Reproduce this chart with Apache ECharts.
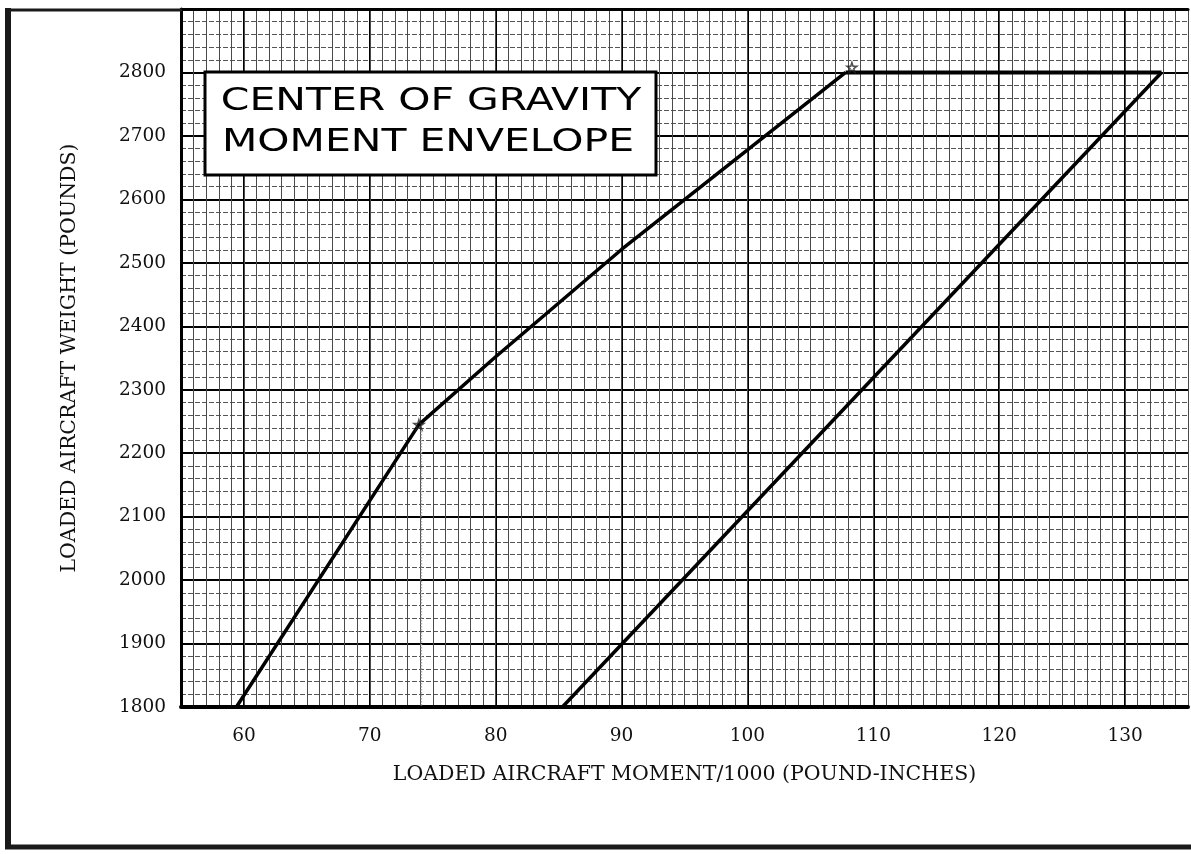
<!DOCTYPE html>
<html>
<head>
<meta charset="utf-8">
<script src="https://cdn.jsdelivr.net/npm/echarts@6/dist/echarts.min.js"></script>
<style>
html,body{margin:0;padding:0;background:#fff;}
#c{width:1191px;height:854px;}
</style>
</head>
<body>
<div id="c"></div>
<script>
// ---- data ----
var xTickLabels = [60, 70, 80, 90, 100, 110, 120, 130];
var yTickLabels = [1800, 1900, 2000, 2100, 2200, 2300, 2400, 2500, 2600, 2700, 2800];
// forward (left) limit of the envelope
var fwdMoment = [59.4, 73.9, 80, 90, 107.8];
var fwdWeight = [1800, 2245, 2352, 2521, 2800];
// maximum weight line
var topMoment = [107.8, 132.9];
var topWeight = [2800, 2800];
// aft (right) limit
var aftMoment = [85.3, 132.9];
var aftWeight = [1800, 2800];
// pencil construction line
var pencilMoment = [74.1, 74.1];
var pencilWeight = [2235, 1800];
// hand marks
var markMoment = [73.9, 108.3];
var markWeight = [2245, 2808];

function zip(a, b) { return a.map(function (v, i) { return [v, b[i]]; }); }

var chart = echarts.init(document.getElementById('c'), null, {renderer: 'canvas'});
var serif = 'DejaVu Serif';
var option = {
  backgroundColor: '#fff',
  animation: false,
  grid: {left: 181, right: 1, top: 9, bottom: 147, containLabel: false},
  xAxis: [{
    type: 'value', min: 55, max: 135, interval: 5, position: 'bottom',
    name: 'LOADED AIRCRAFT MOMENT/1000 (POUND-INCHES)',
    nameLocation: 'middle', nameGap: 57,
    nameTextStyle: {fontFamily: serif, fontSize: 20.5, color: '#111'},
    axisLine: {show: true, onZero: false, lineStyle: {color: '#000', width: 4}},
    axisTick: {show: false},
    axisLabel: {
      margin: 20, fontFamily: serif, fontSize: 18.5, color: '#111',
      formatter: function (v) { return xTickLabels.indexOf(v) >= 0 ? String(v) : ''; }
    },
    splitLine: {show: true, lineStyle: {color: ['rgba(0,0,0,0)', '#000'], width: 2}}
  }, {
    type: 'value', min: 55, max: 135, interval: 1, position: 'top',
    axisLine: {show: true, onZero: false, lineStyle: {color: '#000', width: 3}},
    axisTick: {show: false}, axisLabel: {show: false},
    splitLine: {show: true, lineStyle: {color: '#4a4a4a', width: 1}}
  }],
  yAxis: [{
    type: 'value', min: 1800, max: 2900, interval: 100,
    name: 'LOADED AIRCRAFT WEIGHT (POUNDS)',
    nameLocation: 'middle', nameGap: 101, nameRotate: 90,
    nameTextStyle: {fontFamily: serif, fontSize: 20.5, color: '#111'},
    axisLine: {show: true, onZero: false, lineStyle: {color: '#000', width: 3}},
    axisTick: {show: false},
    axisLabel: {
      margin: 15, fontFamily: serif, fontSize: 18.5, color: '#111',
      formatter: function (v) { return yTickLabels.indexOf(v) >= 0 ? String(v) : ''; }
    },
    splitLine: {show: true, lineStyle: {color: '#000', width: 2}},
    minorTick: {show: false, splitNumber: 5},
    minorSplitLine: {show: true, lineStyle: {color: '#555', width: 1, type: [5, 2]}}
  }],
  series: [{
    type: 'line', xAxisIndex: 0, symbol: 'none', z: 5,
    lineStyle: {color: '#000', width: 3.5},
    data: zip(fwdMoment, fwdWeight)
  }, {
    type: 'line', xAxisIndex: 0, symbol: 'none', z: 5,
    lineStyle: {color: '#000', width: 4},
    data: zip(topMoment, topWeight)
  }, {
    type: 'line', xAxisIndex: 0, symbol: 'none', z: 5,
    lineStyle: {color: '#000', width: 3.5},
    data: zip(aftMoment, aftWeight)
  }, {
    type: 'line', xAxisIndex: 0, symbol: 'none', z: 4,
    lineStyle: {color: '#aaa', width: 1.5, type: 'dotted'},
    data: zip(pencilMoment, pencilWeight)
  }, {
    type: 'scatter', xAxisIndex: 0, z: 6,
    symbol: 'path://M50,0 L61,35 L98,35 L68,57 L79,91 L50,70 L21,91 L32,57 L2,35 L39,35 Z',
    symbolSize: 10,
    itemStyle: {color: 'rgba(0,0,0,0)', borderColor: '#222', borderWidth: 1.5},
    data: zip(markMoment, markWeight)
  }],
  graphic: [
    {type: 'line', shape: {x1: 8, y1: 8, x2: 8, y2: 849}, style: {stroke: '#1a1a1a', lineWidth: 6}, z: 10},
    {type: 'line', shape: {x1: 5, y1: 847, x2: 1191, y2: 847}, style: {stroke: '#1a1a1a', lineWidth: 5}, z: 10},
    {type: 'line', shape: {x1: 5, y1: 10, x2: 182, y2: 10}, style: {stroke: '#1a1a1a', lineWidth: 3}, z: 10},
    {type: 'rect', shape: {x: 205, y: 72, width: 451, height: 103},
      style: {fill: '#fff', stroke: '#000', lineWidth: 3}, z: 20},
    {type: 'text', x: 431, y: 102, scaleX: 1.28, z: 21,
      style: {text: 'CENTER OF GRAVITY', fontFamily: 'DejaVu Sans', fontSize: 32, fill: '#000',
        textAlign: 'center', textVerticalAlign: 'middle'}},
    {type: 'text', x: 428, y: 143, scaleX: 1.28, z: 21,
      style: {text: 'MOMENT ENVELOPE', fontFamily: 'DejaVu Sans', fontSize: 32, fill: '#000',
        textAlign: 'center', textVerticalAlign: 'middle'}}
  ]
};
chart.setOption(option);
</script>
</body>
</html>
